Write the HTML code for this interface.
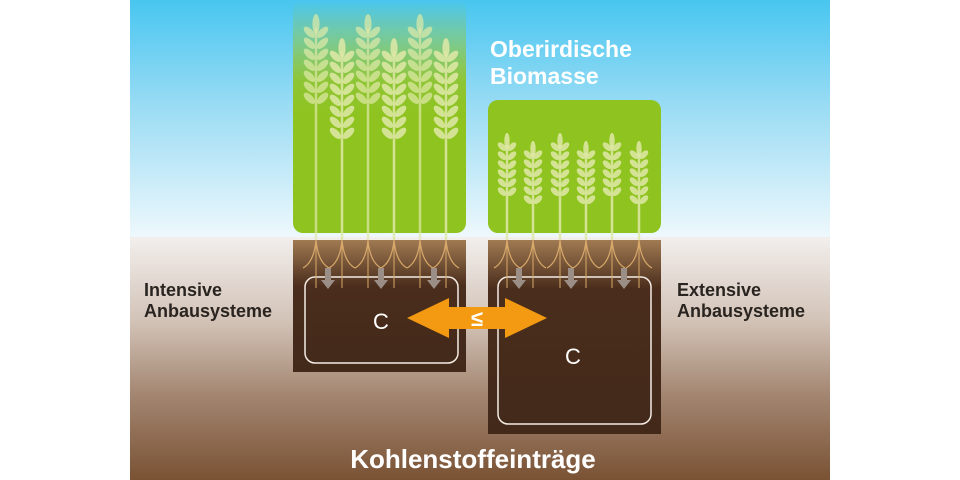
<!DOCTYPE html>
<html><head><meta charset="utf-8"><style>
html,body{margin:0;padding:0;background:#fff}
svg{display:block}
text{font-family:"Liberation Sans",sans-serif;font-weight:bold}
</style></head><body>
<svg id="s" width="960" height="480" viewBox="0 0 960 480" xmlns="http://www.w3.org/2000/svg">
<defs>
<linearGradient id="sky" x1="0" y1="0" x2="0" y2="1">
<stop offset="0" stop-color="#48c6f0"/><stop offset="0.45" stop-color="#9adcf4"/><stop offset="1" stop-color="#eef8fc"/></linearGradient>
<linearGradient id="ground" x1="0" y1="0" x2="0" y2="1">
<stop offset="0" stop-color="#f2efed"/><stop offset="0.35" stop-color="#d2c2b6"/><stop offset="0.65" stop-color="#a38671"/><stop offset="1" stop-color="#7a5234"/></linearGradient>
<linearGradient id="gl" x1="0" y1="0" x2="0" y2="1">
<stop offset="0" stop-color="#8fc31f" stop-opacity="0"/><stop offset="0.35" stop-color="#8fc31f" stop-opacity="0.9"/><stop offset="0.5" stop-color="#8fc31f"/><stop offset="1" stop-color="#8fc31f"/></linearGradient>
<linearGradient id="soil" x1="0" y1="0" x2="0" y2="1">
<stop offset="0" stop-color="#a07a52"/><stop offset="0.35" stop-color="#4a2d1c"/><stop offset="1" stop-color="#42291a"/></linearGradient>
<linearGradient id="soil2" x1="0" y1="0" x2="0" y2="1">
<stop offset="0" stop-color="#a07a52"/><stop offset="0.25" stop-color="#4a2d1c"/><stop offset="1" stop-color="#42291a"/></linearGradient>
</defs>
<rect x="130" y="0" width="700" height="237" fill="url(#sky)"/>
<rect x="130" y="237" width="700" height="243" fill="url(#ground)"/>
<rect x="293" y="0" width="173" height="233" rx="10" fill="url(#gl)"/>
<rect x="488" y="100" width="173" height="133" rx="10" fill="#8fc31f"/>
<rect x="293" y="240" width="173" height="132" fill="url(#soil)"/>
<rect x="488" y="240" width="173" height="194" fill="url(#soil2)"/>
<rect x="305" y="277" width="153" height="86" rx="10" fill="none" stroke="#f4ece4" stroke-width="1.5"/>
<rect x="498" y="277" width="153" height="147" rx="10" fill="none" stroke="#f4ece4" stroke-width="1.5"/>
<g id="w"></g>
<polygon points="407,318 449,298 449,307 505,307 505,298 547,318 505,338 505,329 449,329 449,338" fill="#f39a12"/>
<text x="477" y="326" font-size="22" fill="#fff" text-anchor="middle">≤</text>
<text x="381" y="329" font-size="22" fill="#fff" text-anchor="middle" style="font-weight:normal">C</text>
<text x="573" y="364" font-size="22" fill="#fff" text-anchor="middle" style="font-weight:normal">C</text>
<text x="490" y="57" font-size="23" fill="#fff">Oberirdische</text>
<text x="490" y="84" font-size="23" fill="#fff">Biomasse</text>
<text x="144" y="296" font-size="18" fill="#2a2420">Intensive</text>
<text x="144" y="317" font-size="18" fill="#2a2420">Anbausysteme</text>
<text x="677" y="296" font-size="18" fill="#2a2420">Extensive</text>
<text x="677" y="317" font-size="18" fill="#2a2420">Anbausysteme</text>
<text x="473" y="468" font-size="26" fill="#fff" text-anchor="middle">Kohlenstoffeinträge</text>
</svg>
<script>
var g=document.getElementById('w'),h='';
function wheat(x,top,stemEnd,n,sp,lw,op){
  var c='#dfe9a8';
  h+='<line x1="'+x+'" y1="'+(top+10)+'" x2="'+x+'" y2="'+stemEnd+'" stroke="'+c+'" stroke-width="2.5" opacity="'+op+'"/>';
  h+='<ellipse cx="'+x+'" cy="'+(top+6)+'" rx="'+(lw*0.3)+'" ry="'+(sp*0.9)+'" fill="'+c+'" opacity="'+op+'"/>';
  for(var i=0;i<n;i++){var y=top+sp*1.6+i*sp;
    h+='<ellipse cx="'+(x-lw*0.55)+'" cy="'+(y-sp*0.3)+'" rx="'+(lw*0.6)+'" ry="'+(sp*0.32)+'" transform="rotate(45 '+(x-lw*0.55)+' '+(y-sp*0.3)+')" fill="'+c+'" opacity="'+op+'"/>';
    h+='<ellipse cx="'+(x+lw*0.55)+'" cy="'+(y-sp*0.3)+'" rx="'+(lw*0.6)+'" ry="'+(sp*0.32)+'" transform="rotate(-45 '+(x+lw*0.55)+' '+(y-sp*0.3)+')" fill="'+c+'" opacity="'+op+'"/>';}
}
function roots(xs,y){
  for(var i=0;i<xs.length;i++){var x=xs[i];
    h+='<path d="M'+(x-13)+' '+(y+28)+' Q'+(x-2)+' '+(y+22)+' '+x+' '+y+' Q'+(x+2)+' '+(y+22)+' '+(x+13)+' '+(y+28)+'" fill="none" stroke="#d9a96a" stroke-width="1.2"/>';
    h+='<line x1="'+x+'" y1="'+y+'" x2="'+x+'" y2="'+(y+48)+'" stroke="#d9a96a" stroke-width="1"/>';}
}
function arr(x,y){h+='<polygon points="'+(x-3)+','+y+' '+(x+3)+','+y+' '+(x+3)+','+(y+12)+' '+(x+7)+','+(y+12)+' '+x+','+(y+21)+' '+(x-7)+','+(y+12)+' '+(x-3)+','+(y+12)+'" fill="#9a8e86"/>';}
var L=[316,342,368,394,420,446],R=[507,533,560,586,612,639];
roots(L,240);roots(R,240);
L.forEach(function(x,i){wheat(x,i%2?42:18,240,i%2?8:7,11,12,i%2?0.85:0.7);});
R.forEach(function(x,i){wheat(x,i%2?143:135,240,6,9,9,0.85);});
[328,381,434,519,571,624].forEach(function(x){arr(x,268);});
g.innerHTML=h;
</script>
</body></html>
